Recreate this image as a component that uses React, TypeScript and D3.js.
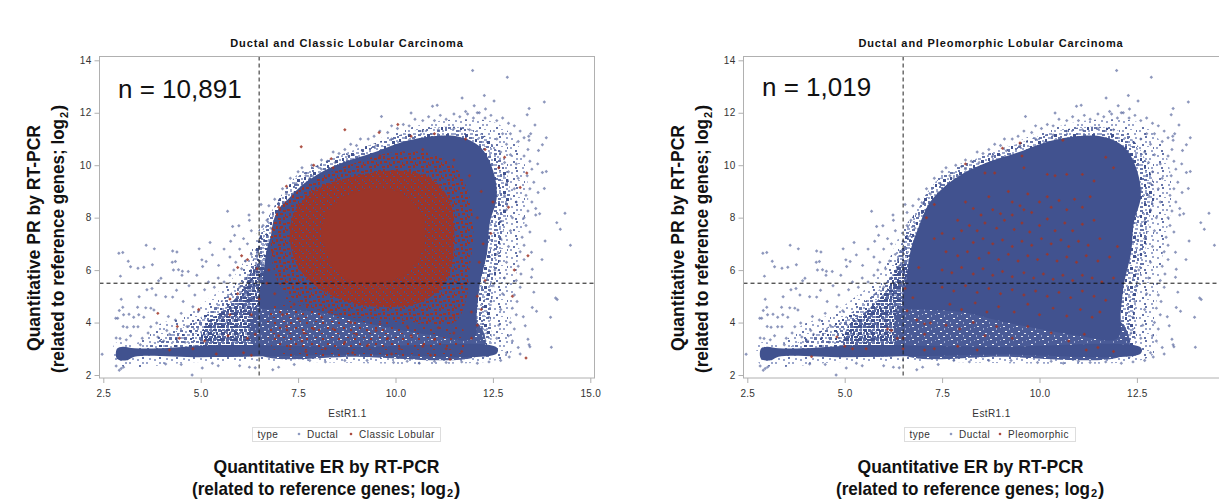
import React, { useEffect, useRef } from 'react';
import * as d3 from 'd3';

type Pt = [number, number];

const xTicks = [2.5, 5, 7.5, 10, 12.5, 15];
const yTicks = [2, 4, 6, 8, 10, 12, 14];
const erCut = 6.5;
const prCut = 5.5;

// outlines of the areas where the ductal points merge
const ductalHalo: Pt[] = [[2.8, 2.45], [2.8, 3.2], [3.4, 3.25], [3.9, 3.9], [4.6, 4.3], [5.2, 4.9], [5.7, 5.5], [6.1, 6.3], [6.4, 7.3], [6.7, 8], [7.1, 8.8], [7.55, 9.75], [8.65, 10.4], [10.1, 11.3], [10.96, 11.65], [11.83, 11.75], [12.6, 11.6], [13.1, 10.9], [13.35, 9.8], [13.4, 8.55], [13.2, 7.03], [13.05, 5.25], [12.95, 4.1], [13, 2.95], [12.68, 2.6], [7.2, 2.5], [5, 2.5]];
const ductalRing: Pt[] = [[6.1, 4.6], [6.3, 5.9], [6.45, 7], [6.7, 7.9], [7, 8.7], [7.4, 9.45], [8, 10], [8.6, 10.4], [9.4, 10.8], [10.1, 11.15], [10.8, 11.4], [11.65, 11.45], [12.3, 11.1], [12.75, 10.1], [12.95, 8.9], [12.8, 7.8], [12.7, 6.6], [12.55, 5.5], [12.45, 4.4], [12.4, 2.7], [12, 2.85], [11, 3.3], [9, 3.85], [7, 4.4]];
const ductalDense: Pt[] = [[6.5, 4.6], [6.6, 5.75], [6.7, 6.8], [6.9, 7.65], [7.15, 8.5], [7.55, 9.17], [8.06, 9.7], [8.65, 10.1], [9.42, 10.47], [10.1, 10.85], [10.8, 11.08], [11.65, 11.08], [12.17, 10.7], [12.5, 9.82], [12.6, 8.8], [12.42, 7.8], [12.35, 6.65], [12.17, 5.5], [12.09, 4.48], [12, 3.4], [11, 3.5], [10, 3.75], [9, 4.05], [8, 4.4], [7, 4.5]];
const ductalBand: Pt[] = [[2.85, 2.62], [3.1, 2.56], [3.3, 2.7], [5, 2.68], [7, 2.72], [9, 2.78], [12.6, 2.82], [12.6, 3.05], [9, 3.08], [7, 3.12], [5.5, 3.14], [4, 3.02], [3.3, 3.02], [3, 3.08], [2.85, 3]];
const ductalLowLeft: Pt[] = [[3.6, 3], [4.3, 3.6], [5, 4.2], [5.6, 4.9], [6.1, 5.6], [6.4, 6.6], [6.7, 7.4], [6.8, 5], [6.8, 3], [6, 2.95]];
const ductalMid: Pt[] = [[5, 3], [5.1, 3.9], [5.6, 4.5], [6.1, 5.3], [6.4, 6.2], [6.7, 6.2], [6.8, 3]];
const ductalLowMid: Pt[] = [[6.4, 2.9], [6.4, 4.6], [7, 5], [9, 4.6], [12.1, 4], [12.25, 2.85], [9, 2.7]];

const lobularOuter: Pt[] = [[6.95, 8.2], [7.4, 8.9], [8, 9.5], [9, 10.1], [10, 10.5], [11, 10.4], [11.6, 9.8], [11.9, 8.8], [12, 7.5], [11.9, 6], [11.8, 4.8], [11.5, 4], [10, 4.1], [8.5, 4.3], [7.5, 4.8], [7, 5.5], [6.8, 7]];
const lobularCore: Pt[] = [[7.4, 8.2], [8, 9.1], [9, 9.6], [10, 9.8], [10.9, 9.5], [11.4, 8.6], [11.5, 7], [11.3, 5.6], [10.7, 4.8], [9.5, 4.6], [8.4, 5], [7.6, 5.9], [7.3, 7]];
const lobularSolid: Pt[] = [[8.1, 7.6], [8.5, 8.6], [9.4, 9.1], [10.2, 8.9], [10.7, 8], [10.7, 6.8], [10.2, 5.8], [9.4, 5.5], [8.6, 5.8], [8.2, 6.8]];
const lobularLow: Pt[] = [[7, 4.9], [8.5, 4.5], [10, 4.3], [11.5, 4.2], [11.8, 3.4], [11.7, 2.8], [9, 2.75], [7, 2.8], [6.7, 3.8]];

const ductalPoints: Pt[] = [
  [11.98, 13.61], [12.87, 13.35], [12.28, 12.66], [11.71, 12.56], [12.53, 12.45], [13.82, 12.41], [12.02, 12.27], [11.07, 12.29], [10.95, 12.25], [13.43, 12.16], [12.31, 12.14], [11.8, 12.05], [12.1, 12], [10.4, 11.99], [9.64, 11.86], [13.38, 11.92], [13.87, 11.05], [13.58, 11.53], [13.47, 11.2], [13.42, 11.1], [13.43, 10.95], [13.77, 10.78], [13.67, 10.56], [13.65, 10.05], [13.87, 9.76], [13.77, 9.72], [13.82, 9.11], [13.66, 8.96], [14.35, 8.17], [13.7, 8.15], [13.6, 8.1], [14.14, 7.81], [14.23, 7.56], [13.84, 7.11], [14.49, 6.95], [13.76, 6.4], [13.49, 6.68], [13.51, 6.03], [13.49, 5.73], [13.55, 5.16], [14.11, 4.94], [14.15, 4.88], [13.51, 4.57], [13.62, 4.43], [13.98, 4.2], [13.28, 4.22], [13.33, 3.88], [13.4, 3.36], [13.43, 3.15], [13.45, 3.08], [14, 3.06], [12.92, 2.69], [13.2, 2.8], [10.61, 2.45], [9.95, 2.48], [9.27, 2.55], [8.2, 2.5], [7.4, 2.4],
  [2.47, 2.79], [2.91, 2.18], [4.78, 2], [5.04, 2.27], [2.83, 2.34], [2.96, 2.25], [3.02, 2.3], [4.1, 2.42], [4.5, 2.4], [5.3, 2.45], [5.45, 2.35], [6, 2.35], [6.25, 2.3], [6.4, 2.28], [6.85, 2.2], [7, 2.3], [2.9, 6.64], [3, 6.67], [3.14, 6.34], [3.2, 6.13], [3.39, 6.07], [3.54, 6.11], [3.6, 6.95], [3.81, 6.81], [3.76, 6.2], [2.94, 5.77], [3.98, 5.69], [3.92, 5.59], [4.28, 6.73], [4.39, 6.69], [4.27, 6.3], [4.35, 6.33], [4.43, 6.01], [4.53, 5.96], [4.68, 5.95], [4.3, 6], [4.52, 5.8], [4.96, 6.81], [5.03, 6.39], [5.14, 6.33], [5.24, 7.05], [5.3, 6.58], [5.46, 6.18], [4.9, 5.8], [5.05, 6.14], [5.77, 7.1], [5.87, 7.33], [5.98, 7.69], [5.82, 7.66], [5.69, 8.24], [6.24, 8.1], [6.25, 7.9], [6.1, 7.2], [6.2, 7], [5.6, 6.8], [5.75, 6.5], [5.9, 6.3], [6, 6.8],
  [2.96, 4.89], [3.42, 4.98], [2.91, 4.46], [3, 4.58], [2.82, 4.16], [2.87, 4.16], [3.02, 4.3], [3.38, 4.58], [3.59, 4.56], [3.16, 4.32], [3.41, 4.3], [3.28, 4.2], [3.54, 4.2], [3.01, 3.85], [3.11, 3.82], [2.83, 3.41], [2.93, 3.39], [3.09, 3.34], [3.39, 3.84], [3.28, 3.84], [3.72, 3.84], [3.87, 3.98], [4.17, 4.23], [4.13, 3.7], [3.72, 4.55], [3.8, 4.48], [3.62, 5.25], [3.75, 5.3], [3.85, 5.05], [4.1, 4.98], [4.28, 4.97], [4.38, 5.23], [4.55, 4.8], [4.7, 5.4], [4.85, 5.05], [5.1, 5.25], [5.2, 5.55], [5.35, 5.35], [5.45, 5.7], [5.6, 5.55], [5.75, 5.8], [5.85, 6], [6.05, 6.05], [6.15, 6.35], [3.5, 3.4], [3.65, 3.6], [3.9, 3.45], [4.05, 3.3], [4.2, 3.55], [4.35, 4.1], [4.5, 4.35], [4.65, 3.85], [4.8, 4.6], [4.95, 4.45], [3.2, 3.5], [3.45, 3.15], [4.4, 3.4], [4.6, 3.25],
  [6.55, 8.5], [6.6, 8.2], [6.75, 8.45], [6.9, 8.7], [7, 8.55], [7.1, 9.1], [7.2, 8.9], [7.3, 9.5], [7.45, 9.3], [7.5, 9.75], [7.1, 8.3], [6.7, 7.9], [6.6, 7.7], [7.6, 9.9], [7.7, 9.6], [7.85, 10], [8, 9.95], [8.1, 10.2], [8.25, 10.15], [8.4, 10.5], [8.55, 10.45], [8.7, 10.6], [8.85, 10.8], [9, 10.75], [9.1, 11], [9.3, 11], [9.45, 11.1], [9.6, 11.3], [9.8, 11.25], [9.9, 11.5], [10.05, 11.4], [10.2, 11.55], [10.35, 11.5], [10.5, 11.75], [10.7, 11.7], [10.85, 11.85], [11, 11.7], [11.15, 11.9], [11.3, 11.75], [11.5, 11.95], [11.65, 11.85], [11.85, 11.95], [12, 11.8], [12.15, 12], [12.3, 11.8], [12.45, 11.9], [12.6, 11.7], [12.75, 11.8], [12.9, 11.6], [13.05, 11.5], [13.2, 11.3], [13.3, 11.05], [12.95, 11.2], [13.15, 10.9], [13.4, 10.6], [13.3, 10.35], [13.45, 10.15], [13.5, 9.85], [13.38, 9.6], [13.55, 9.35], [13.45, 9.1], [13.35, 8.85], [13.5, 8.6], [13.6, 8.35], [13.4, 8.25], [13.3, 8], [13.35, 7.7], [13.45, 7.45], [13.25, 7.25], [13.3, 6.95], [13.2, 6.7], [13.3, 6.4], [13.15, 6.15], [13.22, 5.85], [13.1, 5.6], [13.2, 5.35], [13.05, 5.05], [13.12, 4.8], [13, 4.55], [13.1, 4.3], [12.95, 4], [13.05, 3.75], [12.9, 3.5], [13, 3.3], [13.15, 3.05], [12.85, 2.85], [12.7, 2.55], [12.4, 2.5], [12.1, 2.45], [11.7, 2.5], [11.3, 2.48], [11, 2.52], [10.3, 2.52], [8.7, 2.55], [7.8, 2.55],
  [12.75, 11.2], [12.6, 11], [12.85, 10.8], [12.7, 10.5], [12.95, 10.4], [12.8, 10.1], [13.1, 10.05], [12.9, 9.75], [13.15, 9.5], [12.85, 9.3], [13.05, 9.1], [12.8, 8.85], [13.1, 8.6], [12.85, 8.3], [13, 8], [12.7, 7.85], [12.95, 7.5], [12.7, 7.2], [12.9, 6.9], [12.6, 6.6], [12.85, 6.3], [12.55, 6], [12.8, 5.7], [12.5, 5.4], [12.75, 5.1], [12.45, 4.8], [12.7, 4.5], [12.4, 4.2], [12.65, 3.9], [12.35, 3.6], [12.6, 3.4], [12.3, 3.3], [11.9, 11.35], [11.5, 11.4], [11.1, 11.35], [10.7, 11.3], [10.35, 11.15], [9.9, 11], [9.5, 10.75], [9.15, 10.55], [8.8, 10.35], [8.45, 10.1], [8.1, 9.85], [7.8, 9.5], [7.4, 8.95], [7.05, 8], [6.8, 7.6], [6.5, 7.1], [6.3, 6.6], [6.45, 6.2], [6.3, 7.5], [6.4, 5.9], [6.2, 5.7], [6, 5.35]
];

const lobularPoints: Pt[] = [
  [7.58, 10.7], [8.7, 11.35], [9.58, 11.25], [10.06, 11.55], [10.4, 11.1], [11, 11.2], [11.8, 11], [12.3, 10.6], [12.8, 10.3], [13.37, 9.7], [13.2, 9.15], [12.65, 9.9], [12.5, 8.6], [12.9, 8.4], [13.4, 6.55], [13.05, 6], [13, 5], [13.35, 2.65], [11.4, 2.6], [7.65, 3.6], [8.35, 10.25], [7.2, 9.2], [7, 8.4], [7.9, 10],
  [3.9, 4.35], [6.05, 6.55], [5.95, 6.1], [6.2, 6.4], [6.45, 6.05], [5.95, 5.1], [5.75, 4.9], [5.75, 4.3], [4.95, 4.5], [4.4, 3.85], [4.45, 3.4], [5.1, 3.3], [5.7, 3.5], [6.2, 3.4], [6.4, 3.55], [6.3, 4.3], [6.5, 4.9], [6.9, 5.1], [7, 3.5], [7.2, 3.85], [7.6, 3.3], [7.9, 3.75], [7.7, 2.9], [6.3, 2.75], [6.1, 2.85], [5.4, 2.8], [4.8, 3], [4.2, 2.95],
  [8.1, 4.2], [8.4, 3.75], [8.7, 3.25], [9, 3.55], [9.3, 3.15], [9.5, 3.7], [9.8, 3.4], [10.1, 3], [10.4, 3.5], [10.7, 3.1], [11, 3.35], [11.3, 3], [11.5, 3.6], [11.7, 2.9], [11.95, 3.4], [12.1, 3.9], [12.2, 4.5], [12.1, 5], [12.3, 5.6], [12.15, 6.3], [12.25, 7], [12.45, 7.4], [7.3, 3.1], [8.2, 3], [8.9, 2.85], [9.9, 2.8], [10.9, 2.75], [7.1, 4.3], [7.5, 4.15], [8.3, 4.4], [8.85, 4], [9.6, 3.95], [10.3, 3.85], [11.1, 3.8], [11.5, 4.2], [11.95, 4.4], [7.4, 4.7], [6.75, 6], [6.85, 6.7], [6.7, 5.5], [7.05, 7.6], [12.1, 8], [12.2, 9], [11.9, 9.6], [11.5, 10.2], [10.7, 10.6], [9.6, 10.35], [8.4, 9.9]
];

const pleomorphicPoints: Pt[] = [
  [8.1, 10.05], [8.6, 9.7], [8.85, 9.7], [9.05, 10.65], [9.5, 10.85], [9.55, 10.35], [9.6, 9.9], [10.6, 10.95], [11.9, 9.9], [11.7, 10.3], [7.3, 8.5], [7.1, 8], [7.9, 7.9], [8.1, 8.6], [8.3, 8.35], [8.7, 8.8], [9.2, 9], [9.3, 8.6], [9.5, 8.45], [9.7, 8.9], [10.2, 9.65], [10.4, 9.6], [10.7, 9.65], [11.1, 9.65], [11.4, 9.4],
  [8.5, 8.1], [8.8, 8.3], [9, 8.15], [9.3, 8.1], [9.6, 8.3], [9.8, 8.2], [10, 8.6], [10.2, 8.8], [10.3, 8.4], [10.5, 8.65], [10.7, 8.3], [10.9, 8.7], [11.1, 8.4], [11.3, 8.8], [8.2, 7.7], [8.4, 7.5], [8.6, 7.8], [8.9, 7.6], [9.1, 7.9], [9.35, 7.55], [9.55, 7.8], [9.75, 7.45], [10, 7.7], [10.2, 7.95], [10.4, 7.5], [10.65, 7.8], [10.85, 7.5], [11.1, 7.75], [11.4, 7.9], [7.5, 7.4], [7.8, 7.2], [8, 7.5], [8.3, 7.05], [8.55, 7.2], [8.8, 7], [9.05, 7.15], [9.3, 6.9], [9.55, 7.1], [9.8, 6.95], [10.05, 7.2], [10.3, 7], [10.55, 7.15], [10.75, 6.9], [11, 7.1], [11.25, 6.95], [11.55, 7.2],
  [7.6, 6.7], [7.9, 6.55], [8.15, 6.7], [8.45, 6.45], [8.7, 6.65], [8.95, 6.4], [9.2, 6.6], [9.45, 6.35], [9.7, 6.55], [9.95, 6.4], [10.2, 6.6], [10.45, 6.35], [10.7, 6.5], [10.95, 6.3], [11.2, 6.55], [11.5, 6.35], [11.8, 6.5], [12, 6.9], [7.5, 6], [7.75, 5.9], [8, 6.1], [8.3, 5.85], [8.55, 6.05], [8.8, 5.8], [9.05, 5.95], [9.3, 5.75], [9.6, 5.9], [9.85, 5.7], [10.1, 5.85], [10.35, 5.65], [10.6, 5.8], [10.85, 5.6], [11.1, 5.8], [11.35, 5.7], [11.6, 5.55], [11.9, 5.7], [6.9, 6.1], [6.75, 4.95], [6.6, 4.45], [6.85, 4.1], [7.05, 3.95], [7.2, 3.98], [6.55, 5.3], [7.3, 7.2], [7.05, 3.55], [6.35, 3.4], [6.5, 3], [5.55, 3], [4.8, 3.45], [4.15, 2.7], [5.2, 3], [5, 3.1], [6.1, 3.75], [6.2, 3.7], [6.5, 3.4],
  [7.5, 5.35], [7.8, 5.2], [8.1, 5.4], [8.4, 5.15], [8.7, 5.3], [9, 5.1], [9.3, 5.25], [9.6, 5.05], [9.9, 5.2], [10.2, 5], [10.5, 5.15], [10.8, 4.95], [11.1, 5.2], [11.4, 5], [11.7, 4.85], [7.7, 4.7], [8, 4.5], [8.35, 4.75], [8.65, 4.4], [8.95, 4.6], [9.35, 4.4], [9.7, 4.7], [10, 4.3], [10.35, 4.55], [10.7, 4.25], [11.05, 4.5], [11.35, 4.2], [11.55, 4.4], [7.6, 3.9], [7.95, 3.75], [8.3, 4], [8.6, 3.5], [8.9, 3.85], [9.3, 3.4], [9.7, 3.85], [10.3, 3.6], [10.75, 3.3], [11.15, 3.55], [11.5, 3.05], [7.9, 3.1], [7.3, 3], [7.05, 2.95], [8.4, 2.95], [11.2, 2.95], [11.9, 2.9]
];

const PLOT = { top: 56.5, bottom: 378, y14: 60.3, y2: 375 };
const IMAGE_W = 1219;
const BLUE = '#41528f';
const RED = '#9c3529';
const MID = '#6675aa';
const PALE = '#9aa5cb';

// texture tiles for the merged areas: [x, y, w, h, colour]
const sparseTile: any[] = [[1, 2, 2, 2, PALE], [6, 0, 2, 2, MID], [10, 5, 2, 2, PALE], [3, 8, 2, 2, MID], [6, 5, 2, 2, PALE], [0, 11, 2, 2, PALE], [8, 10, 2, 1, PALE], [13, 1, 2, 2, PALE], [14, 11, 1, 2, MID], [12, 14, 2, 2, PALE], [5, 14, 2, 2, MID]];
const ringTile: any[] = [[0, 1, 3, 2, MID], [5, 0, 2, 2, PALE], [9, 1, 3, 3, BLUE], [14, 0, 3, 2, PALE], [3, 4, 2, 2, PALE], [6, 3, 2, 3, MID], [13, 4, 3, 2, MID], [0, 6, 2, 3, BLUE], [9, 6, 3, 2, PALE], [16, 7, 2, 2, PALE], [4, 8, 3, 2, MID], [12, 8, 3, 3, BLUE], [1, 12, 2, 2, PALE], [7, 11, 3, 2, PALE], [16, 11, 2, 3, MID], [4, 13, 2, 3, BLUE], [11, 13, 3, 2, MID], [8, 15, 2, 2, MID], [15, 15, 2, 2, PALE], [0, 16, 3, 2, MID]];
const lowLeftTile: any[] = [[0, 0, 3, 2, MID], [5, 1, 2, 2, PALE], [9, 0, 3, 2, BLUE], [2, 4, 2, 2, BLUE], [7, 4, 3, 2, PALE], [12, 3, 2, 3, MID], [0, 7, 2, 2, PALE], [4, 7, 3, 3, MID], [10, 8, 2, 2, BLUE], [1, 11, 3, 2, MID], [7, 11, 2, 2, PALE], [11, 11, 3, 2, MID]];
const midTile: any[] = [[0, 0, 4, 3, BLUE], [5, 0, 3, 3, '#5566a1'], [9, 1, 4, 2, BLUE], [1, 4, 3, 2, MID], [5, 4, 4, 2, BLUE], [10, 4, 3, 3, '#5566a1'], [0, 7, 4, 3, BLUE], [5, 7, 2, 2, MID], [8, 7, 2, 3, BLUE], [11, 8, 2, 2, PALE], [1, 11, 4, 2, '#5566a1'], [6, 10, 2, 3, BLUE], [9, 11, 4, 2, BLUE]];
const lowMidTile: any[] = [[2, 1, 2, 1, '#eef0f7'], [8, 3, 1, 2, PALE], [4, 6, 2, 1, '#ffffff'], [10, 8, 2, 1, '#dfe3ef'], [1, 10, 1, 2, PALE], [7, 11, 2, 1, '#eef0f7'], [12, 2, 1, 1, PALE]];
const redTile: any[] = [[1, 1, 3, 2, RED], [6, 0, 2, 3, RED], [10, 2, 3, 2, RED], [3, 5, 2, 3, RED], [7, 5, 3, 2, RED], [12, 6, 1, 3, RED], [0, 8, 2, 2, RED], [5, 10, 3, 2, RED], [10, 9, 2, 3, RED]];
const redLowTile: any[] = [[2, 2, 2, 2, RED], [11, 1, 2, 1, RED], [7, 7, 2, 2, RED], [14, 9, 2, 2, RED], [1, 13, 2, 1, RED]];
const denseTile: any[] = [[1, 1, 2, 1, BLUE], [5, 4, 1, 2, BLUE], [0, 6, 1, 1, BLUE]];

const Tile = ({ id, size, rects, base }: any) => (
  <pattern id={id} width={size} height={size} patternUnits="userSpaceOnUse">
    {base && <rect width={size} height={size} fill={base} />}
    {rects.map((r: any, i: number) => <rect key={i} x={r[0]} y={r[1]} width={r[2]} height={r[3]} fill={r[4]} />)}
  </pattern>
);

const Panel = ({ left, x25, title, titleX, nLabel, nX, nY, redLabel, redPoints, redPolys, legend }: any) => {
  const ref = useRef<SVGGElement>(null);
  useEffect(() => {
    const g = d3.select(ref.current);
    g.selectAll('*').remove();

    const x = d3.scaleLinear().domain([2.5, 15]).range([x25, x25 + 487]);
    const y = d3.scaleLinear().domain([2, 14]).range([PLOT.y2, PLOT.y14]);
    const right = left + 495;
    const area = d3.line<Pt>().x(d => x(d[0])).y(d => y(d[1])).curve(d3.curveCatmullRomClosed);
    const dot = d3.symbol().type(d3.symbolSquare).size(6)()!;

    // merged ductal areas
    g.append('path').attr('d', area(ductalHalo)).attr('fill', 'url(#sparseBlue)');
    g.append('path').attr('d', area(ductalRing)).attr('fill', 'url(#ringBlue)');
    g.append('path').attr('d', area(ductalLowLeft)).attr('fill', 'url(#lowLeftBlue)');
    g.append('path').attr('d', area(ductalMid)).attr('fill', 'url(#midBlue)');
    g.append('path').attr('d', area(ductalLowMid)).attr('fill', 'url(#lowMidBlue)');
    g.append('path').attr('d', area(ductalBand)).attr('fill', BLUE);
    g.append('path').attr('d', area(ductalDense)).attr('fill', BLUE);

    g.selectAll('path.ductal').data(ductalPoints).enter().append('path')
      .attr('class', 'ductal')
      .attr('d', dot)
      .attr('transform', d => `translate(${x(d[0])},${y(d[1])}) rotate(45)`)
      .attr('fill', BLUE)
      .attr('opacity', 0.6);

    if (redPolys) {
      g.append('path').attr('d', area(lobularLow)).attr('fill', 'url(#speckRedLow)');
      g.append('path').attr('d', area(lobularOuter)).attr('fill', 'url(#speckRed)');
      g.append('path').attr('d', area(lobularCore)).attr('fill', 'url(#denseRed)');
      g.append('path').attr('d', area(lobularSolid)).attr('fill', RED);
    }
    g.selectAll('path.red').data(redPoints as Pt[]).enter().append('path')
      .attr('class', 'red')
      .attr('d', dot)
      .attr('transform', d => `translate(${x(d[0])},${y(d[1])}) rotate(45)`)
      .attr('fill', '#a03527')
      .attr('opacity', 0.85);

    // reference lines
    g.append('line').attr('x1', x(erCut)).attr('x2', x(erCut)).attr('y1', PLOT.top).attr('y2', PLOT.bottom)
      .attr('stroke', '#222').attr('stroke-dasharray', '4 3');
    g.append('line').attr('x1', left).attr('x2', right).attr('y1', y(prCut)).attr('y2', y(prCut))
      .attr('stroke', '#111').attr('stroke-dasharray', '4 3');

    // frame and axes
    g.append('rect').attr('x', left).attr('y', PLOT.top).attr('width', right - left).attr('height', PLOT.bottom - PLOT.top)
      .attr('fill', 'none').attr('stroke', '#b0b0b0');

    const shownTicks = xTicks.filter(t => x(t) < IMAGE_W - 10);
    const xAxis = g.append('g').attr('transform', `translate(0,${PLOT.bottom})`)
      .call(d3.axisBottom(x).tickValues(shownTicks).tickFormat(d3.format('.1f') as any).tickSize(5).tickPadding(7).tickSizeOuter(0));
    const yAxis = g.append('g').attr('transform', `translate(${left},0)`)
      .call(d3.axisLeft(y).tickValues(yTicks).tickSize(5).tickSizeOuter(0));
    [xAxis, yAxis].forEach(a => {
      a.select('.domain').remove();
      a.selectAll('line').attr('stroke', '#b0b0b0');
      a.selectAll('text').attr('fill', '#333').style('font-size', '10px').style('letter-spacing', '0.3px').style('font-family', 'Liberation Sans');
    });
  }, []);

  const s = { fontFamily: 'Liberation Sans' };
  const cx = left + 248;
  const outerX = left + 92.5;
  const sideY = 373;
  const sym = d3.symbol().type(d3.symbolSquare).size(5)()!;
  const bold = { fontSize: 19, fontWeight: 'bold', fill: '#111', lengthAdjust: 'spacingAndGlyphs' } as any;
  return (
    <g style={s}>
      <g ref={ref} />
      <text x={titleX} y={47} textAnchor="middle" fontSize={11} fontWeight="bold" letterSpacing={0.9} fill="#111">{title}</text>
      <text x={nX} y={nY} fontSize={26} fill="#111">{nLabel}</text>
      <text x={cx} y={417} textAnchor="middle" fontSize={10} letterSpacing={0.4} fill="#333">EstR1.1</text>

      <rect x={legend.x} y={427.5} width={legend.w} height={14} fill="#fff" stroke="#ddd" />
      <text x={legend.x + 5} y={437.7} fontSize={10} letterSpacing={0.5} fill="#333">type</text>
      <path d={sym} transform={`translate(${legend.m1},434) rotate(45)`} fill="#7f8db8" />
      <text x={legend.m1 + 8} y={437.7} fontSize={10} letterSpacing={0.5} fill="#333">Ductal</text>
      <path d={sym} transform={`translate(${legend.m2},434) rotate(45)`} fill="#a03527" />
      <text x={legend.m2 + 8} y={437.7} fontSize={10} letterSpacing={0.5} fill="#333">{redLabel}</text>

      <text transform={`translate(${left - 60},238) rotate(-90)`} textAnchor="middle" textLength={226} {...bold}>Quantitative PR by RT-PCR</text>
      <g transform={`translate(${left - 36},${sideY}) rotate(-90)`}>
        <text x={0} y={0} textLength={254} {...bold}>(related to reference genes; log</text>
        <text x={255} y={4} fontSize={11} fontWeight="bold" fill="#111">2</text>
        <text x={262} y={0} fontSize={19} fontWeight="bold" fill="#111">)</text>
      </g>
      <text x={outerX + 134.5} y={473} textAnchor="middle" textLength={226} {...bold}>Quantitative ER by RT-PCR</text>
      <text x={outerX} y={495} textLength={254} {...bold}>(related to reference genes; log</text>
      <text x={outerX + 255} y={497} fontSize={11} fontWeight="bold" fill="#111">2</text>
      <text x={outerX + 262} y={495} fontSize={19} fontWeight="bold" fill="#111">)</text>
    </g>
  );
};

export default function App() {
  return (
    <svg width={IMAGE_W} height={499} style={{ position: 'absolute', left: 0, top: 0, display: 'block' }}>
      <defs>
        <Tile id="sparseBlue" size={17} rects={sparseTile} />
        <Tile id="ringBlue" size={19} rects={ringTile} />
        <Tile id="lowLeftBlue" size={15} rects={lowLeftTile} />
        <Tile id="midBlue" size={13} rects={midTile} />
        <Tile id="lowMidBlue" size={13} rects={lowMidTile} base="#4a5b97" />
        <Tile id="speckRed" size={13} rects={redTile} base={BLUE} />
        <Tile id="speckRedLow" size={16} rects={redLowTile} />
        <Tile id="denseRed" size={7} rects={denseTile} base={RED} />
      </defs>
      <rect width={IMAGE_W} height={499} fill="#fff" />
      <Panel left={99.5} x25={103.3} title="Ductal and Classic Lobular Carcinoma" titleX={347} nLabel="n = 10,891" nX={118} nY={98}
        redLabel="Classic Lobular" redPoints={lobularPoints} redPolys legend={{ x: 252.5, w: 188, m1: 299, m2: 351 }} />
      <Panel left={743.5} x25={747.3} title="Ductal and Pleomorphic Lobular Carcinoma" titleX={991} nLabel="n = 1,019" nX={762} nY={96}
        redLabel="Pleomorphic" redPoints={pleomorphicPoints} redPolys={false} legend={{ x: 904.5, w: 171, m1: 951, m2: 1000 }} />
    </svg>
  );
}
